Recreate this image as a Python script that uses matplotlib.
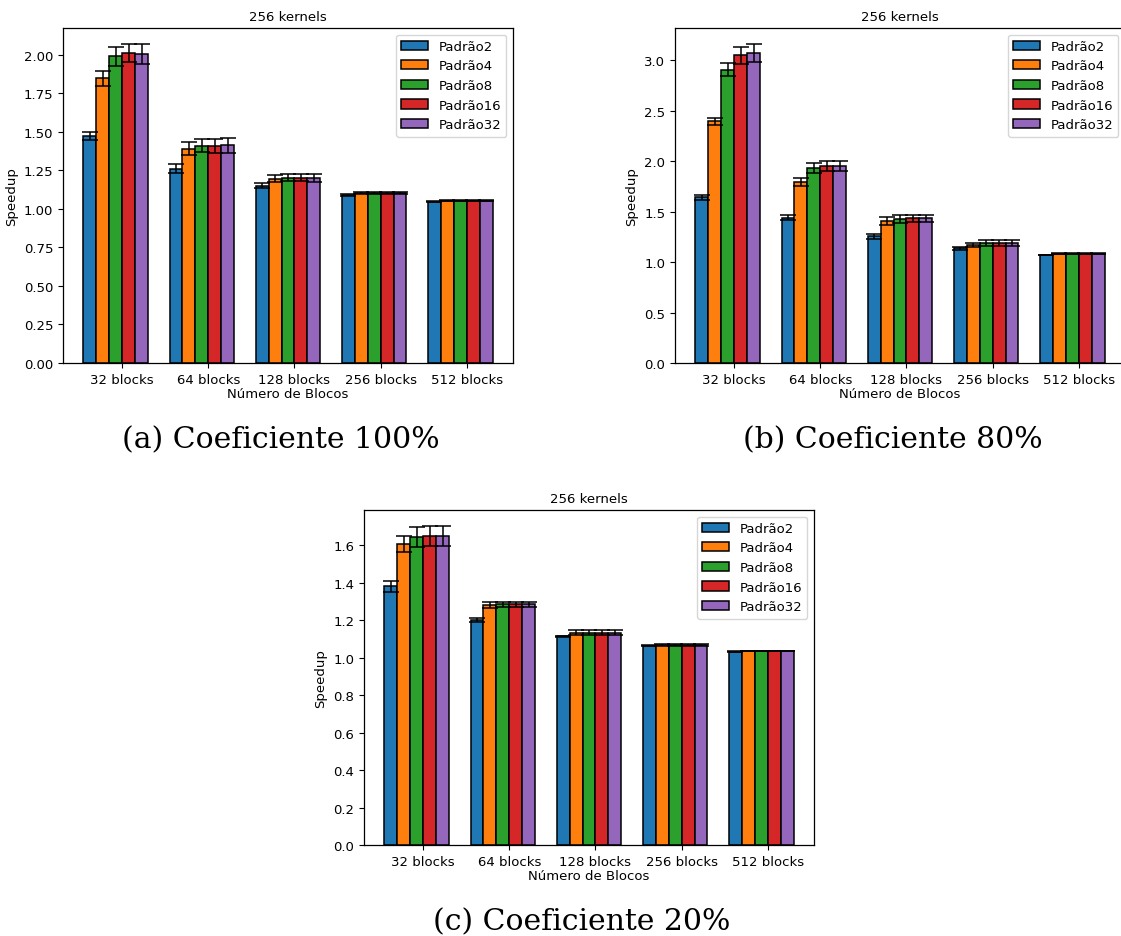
import numpy as np
import matplotlib
matplotlib.use("Agg")
import matplotlib.pyplot as plt

blocos = ["32 blocks", "64 blocks", "128 blocks", "256 blocks", "512 blocks"]
padroes = ["Padrão2", "Padrão4", "Padrão8", "Padrão16", "Padrão32"]

# coeficiente 100%
med_100 = [
    [1.472, 1.262, 1.151, 1.089, 1.047],
    [1.849, 1.392, 1.197, 1.102, 1.052],
    [1.991, 1.409, 1.203, 1.102, 1.052],
    [2.011, 1.409, 1.203, 1.102, 1.052],
    [2.006, 1.413, 1.203, 1.102, 1.052],
]
err_100 = [
    [0.026, 0.028, 0.016, 0.005, 0.003],
    [0.049, 0.040, 0.023, 0.005, 0.003],
    [0.062, 0.042, 0.023, 0.005, 0.003],
    [0.060, 0.045, 0.024, 0.005, 0.003],
    [0.064, 0.047, 0.025, 0.005, 0.003],
]

# coeficiente 80%
med_80 = [
    [1.640, 1.439, 1.254, 1.135, 1.069],
    [2.393, 1.795, 1.406, 1.171, 1.082],
    [2.904, 1.934, 1.426, 1.185, 1.082],
    [3.046, 1.950, 1.432, 1.185, 1.082],
    [3.072, 1.950, 1.432, 1.185, 1.082],
]
err_80 = [
    [0.026, 0.025, 0.026, 0.015, 0.004],
    [0.035, 0.038, 0.035, 0.020, 0.005],
    [0.063, 0.048, 0.035, 0.028, 0.005],
    [0.084, 0.050, 0.036, 0.028, 0.005],
    [0.087, 0.050, 0.036, 0.028, 0.005],
]

# coeficiente 20%
med_20 = [
    [1.380, 1.202, 1.113, 1.063, 1.031],
    [1.605, 1.280, 1.134, 1.068, 1.035],
    [1.646, 1.285, 1.134, 1.068, 1.035],
    [1.648, 1.285, 1.134, 1.068, 1.035],
    [1.650, 1.285, 1.134, 1.068, 1.035],
]
err_20 = [
    [0.027, 0.010, 0.005, 0.003, 0.002],
    [0.043, 0.016, 0.011, 0.004, 0.002],
    [0.053, 0.013, 0.011, 0.004, 0.002],
    [0.053, 0.013, 0.011, 0.004, 0.002],
    [0.053, 0.013, 0.011, 0.004, 0.002],
]

legendas = ["(a) Coeficiente 100%", "(b) Coeficiente 80%", "(c) Coeficiente 20%"]

plt.rcParams["font.size"] = 9.5
plt.rcParams["font.family"] = "DejaVu Sans"

W, H = 1121, 937
fig = plt.figure(figsize=(W / 100, H / 100), dpi=100)


def desenha(ax, medias, erros):
    largura = 0.15
    r = np.arange(len(blocos))
    for k in range(len(padroes)):
        ax.bar(r + k * largura, medias[k], largura, yerr=erros[k], capsize=6,
               edgecolor="black", linewidth=1.1, label=padroes[k],
               error_kw={"elinewidth": 1.1, "capthick": 1.1})
    ax.set_xticks(r + largura * 2.5)
    ax.set_xticklabels(blocos)
    ax.set_xlabel("Número de Blocos", labelpad=1)
    ax.set_ylabel("Speedup")
    ax.set_title("256 kernels", fontsize=9.5)
    ax.legend(loc="upper right")
    for s in ax.spines.values():
        s.set_linewidth(0.9)


# posicoes em pixels: (esq, topo, dir, baixo)
caixas = [(63, 29, 513, 364), (675, 29, 1125, 364), (364, 511, 814, 846)]
dados = [(med_100, err_100), (med_80, err_80), (med_20, err_20)]
centros = [(281, 440), (893, 440), (582, 922)]

for (x0, y0, x1, y1), (m, e), (cx, cy), leg in zip(caixas, dados, centros, legendas):
    ax = fig.add_axes([x0 / W, 1 - y1 / H, (x1 - x0) / W, (y1 - y0) / H])
    desenha(ax, m, e)
    fig.text(cx / W, 1 - cy / H, leg, ha="center", va="center",
             fontsize=21.5, family="DejaVu Serif")

fig.savefig("out.png", dpi=100)
